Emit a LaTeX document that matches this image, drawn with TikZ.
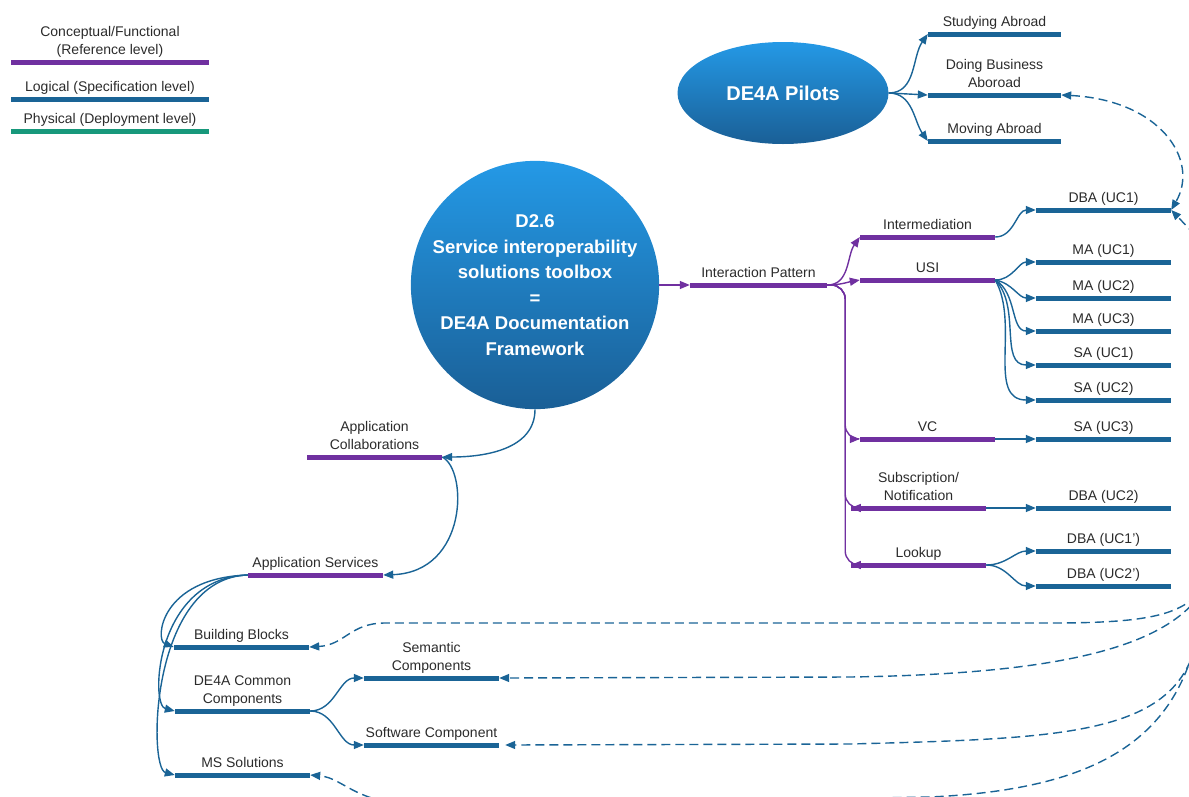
\documentclass[tikz,border=0pt]{standalone}
\usepackage{fontspec}
\setmainfont{Liberation Sans}
\usetikzlibrary{arrows.meta,shapes.geometric}

\definecolor{refpurple}{HTML}{7030A0}
\definecolor{specblue}{HTML}{1A6496}
\definecolor{depteal}{HTML}{17987B}
\definecolor{txtgray}{HTML}{2B2B2B}
\definecolor{ballhigh}{HTML}{2499E6}
\definecolor{balllow}{HTML}{1A5F96}

\tikzset{
  levelbar/.style={rectangle, inner sep=0pt, minimum width=135pt, minimum height=5pt, fill=#1},
  pbar/.style={levelbar=refpurple},
  bbar/.style={levelbar=specblue},
  every label/.style={font=\fontsize{14}{18}\selectfont, text=txtgray, align=center, inner sep=0pt, text depth=0pt, yshift=5pt},
  ball/.style={top color=ballhigh, bottom color=balllow, text=white, align=center, inner sep=0pt},
  pconn/.style={refpurple, line width=1.4pt, -{Triangle[length=10pt,width=8pt]}},
  bconn/.style={specblue, line width=1.4pt, -{Triangle[length=10pt,width=8pt]}},
  dconn/.style={specblue, line width=1.4pt, dash pattern=on 9pt off 5pt, -{Triangle[length=10pt,width=8pt]}}
}

\begin{document}
\begin{tikzpicture}[x=1pt,y=-1pt]
  \useasboundingbox (0,0) rectangle (1189,796);
  \clip (0,0) rectangle (1189,796);

  % legend
  \node[pbar, minimum width=198pt, label={above:Conceptual/Functional\\(Reference level)}] (legref) at (110,62) {};
  \node[bbar, minimum width=198pt, label={above:Logical (Specification level)}] (legspec) at (110,99) {};
  \node[levelbar=depteal, minimum width=198pt, label={above:Physical (Deployment level)}] (legdep) at (110,131) {};

  % hubs
  \node[ball, ellipse, minimum width=211pt, minimum height=102pt, font=\fontsize{20}{24}\selectfont\bfseries] (pilots) at (783,93) {DE4A Pilots};
  \node[ball, circle, minimum size=230pt, font=\fontsize{18.5}{25.5}\selectfont\bfseries] (toolbox) at (535,285)
    {D2.6\\Service interoperability\\solutions toolbox\\=\\DE4A Documentation\\Framework};

  % pilots
  \node[bbar, minimum width=133pt, label={above:Studying Abroad}] (study) at (994.5,34) {};
  \node[bbar, minimum width=133pt, label={above:Doing Business\\Aboroad}] (dobiz) at (994.5,95) {};
  \node[bbar, minimum width=133pt, label={above:Moving Abroad}] (moving) at (994.5,141) {};

  % interaction patterns
  \node[pbar, minimum width=137pt, label={above:Interaction Pattern}] (ip) at (758.5,285) {};
  \node[pbar, label={above:Intermediation}] (inter) at (927.5,237) {};
  \node[pbar, label={above:USI}] (usi) at (927.5,280) {};
  \node[pbar, label={above:VC}] (vc) at (927.5,439) {};
  \node[pbar, label={above:Subscription/\\Notification}] (subnot) at (918.5,508) {};
  \node[pbar, label={above:Lookup}] (lookup) at (918.5,565) {};

  % use cases
  \node[bbar, label={above:DBA (UC1)}] (dbaa) at (1103.5,210) {};
  \node[bbar, label={above:MA (UC1)}] (maa) at (1103.5,262) {};
  \node[bbar, label={above:MA (UC2)}] (mab) at (1103.5,298) {};
  \node[bbar, label={above:MA (UC3)}] (mac) at (1103.5,331) {};
  \node[bbar, label={above:SA (UC1)}] (saa) at (1103.5,365) {};
  \node[bbar, label={above:SA (UC2)}] (sab) at (1103.5,400) {};
  \node[bbar, label={above:SA (UC3)}] (sac) at (1103.5,439) {};
  \node[bbar, label={above:DBA (UC2)}] (dbab) at (1103.5,508) {};
  \node[bbar, label={above:DBA (UC1')}] (dbaap) at (1103.5,551) {};
  \node[bbar, label={above:DBA (UC2')}] (dbabp) at (1103.5,586) {};

  % application side
  \node[pbar, label={above:Application\\Collaborations}] (appcol) at (374.5,457) {};
  \node[pbar, label={above:Application Services}] (appsrv) at (315.5,575) {};
  \node[bbar, label={above:Building Blocks}] (bblocks) at (241.5,647) {};
  \node[bbar, label={above:DE4A Common\\Components}] (common) at (242.5,711) {};
  \node[bbar, label={above:MS Solutions}] (mssol) at (242.5,775) {};
  \node[bbar, label={above:Semantic\\Components}] (semcomp) at (431.5,678) {};
  \node[bbar, label={above:Software Component}] (swcomp) at (431.5,745) {};

  % free ends off the page
  \coordinate (offbb) at (1205,585);
  \coordinate (offsem) at (1200,595);
  \coordinate (offsw) at (1200,620);
  \coordinate (offms) at (1196,640);
  \coordinate (offdba) at (1215,272);

  % solid connectors
  \draw[bconn] (pilots.east) to[out=0,in=235] (study.west);
  \draw[bconn] (pilots.east) -- (dobiz.west);
  \draw[bconn] (pilots.east) to[out=0,in=125] (moving.west);

  \draw[pconn] (toolbox.east) -- (ip.west);
  \draw[pconn] (ip.east) to[out=0,in=235] (inter.west);
  \draw[pconn] (ip.east) to[out=0,in=190] (usi.west);
  \draw[pconn, rounded corners=14pt] (ip.east) -- ++(18,0) |- (vc.west);
  \draw[pconn, rounded corners=14pt] (ip.east) -- ++(18,0) |- (subnot.west);
  \draw[pconn, rounded corners=14pt] (ip.east) -- ++(18,0) |- (lookup.west);

  \draw[bconn] (inter.east) to[out=0,in=180] (dbaa.west);
  \draw[bconn] (usi.east) to[out=0,in=180] (maa.west);
  \draw[bconn] (usi.east) to[out=-10,in=180] (mab.west);
  \draw[bconn] (usi.east) to[out=-30,in=180] (mac.west);
  \draw[bconn] (usi.east) to[out=-45,in=180] (saa.west);
  \draw[bconn] (usi.east) to[out=-60,in=180] (sab.west);
  \draw[bconn] (vc.east) -- (sac.west);
  \draw[bconn] (subnot.east) -- (dbab.west);
  \draw[bconn] (lookup.east) to[out=0,in=180] (dbaap.west);
  \draw[bconn] (lookup.east) to[out=0,in=180] (dbabp.west);

  \draw[bconn] (toolbox.south) to[out=-90,in=0] (appcol.east);
  \draw[bconn] (appcol.east) .. controls (468,470) and (468,572) .. (appsrv.east);
  \draw[bconn] (appsrv.west) .. controls (160,578) and (155,640) .. (bblocks.west);
  \draw[bconn] (appsrv.west) .. controls (155,578) and (150,705) .. (common.west);
  \draw[bconn] (appsrv.west) .. controls (150,578) and (148,768) .. (mssol.west);
  \draw[bconn] (common.east) to[out=0,in=180] (semcomp.west);
  \draw[bconn] (common.east) to[out=0,in=180] (swcomp.west);

  % dashed connectors
  \draw[dconn, {Triangle[length=10pt,width=8pt]}-{Triangle[length=10pt,width=8pt]}]
    (dobiz.east) .. controls (1160,100) and (1200,160) .. (dbaa.east);
  \draw[dconn] (offdba) .. controls (1200,240) .. (dbaa.east);
  \draw[dconn] (offbb) .. controls (1185,615) and (1150,623) .. (1050,623) -- (385,623)
    .. controls (350,623) and (345,645) .. (bblocks.east);
  \draw[dconn] (offsem) .. controls (1160,650) and (1050,674) .. (850,677) -- (semcomp.east);
  \draw[dconn] (offsw) .. controls (1190,735) and (1080,738) .. (850,744) -- ([xshift=6pt]swcomp.east);
  \draw[dconn] (offms) .. controls (1170,750) and (1080,790) .. (930,797) -- (430,806)
    .. controls (355,806) and (345,778) .. (mssol.east);
\end{tikzpicture}
\end{document}
